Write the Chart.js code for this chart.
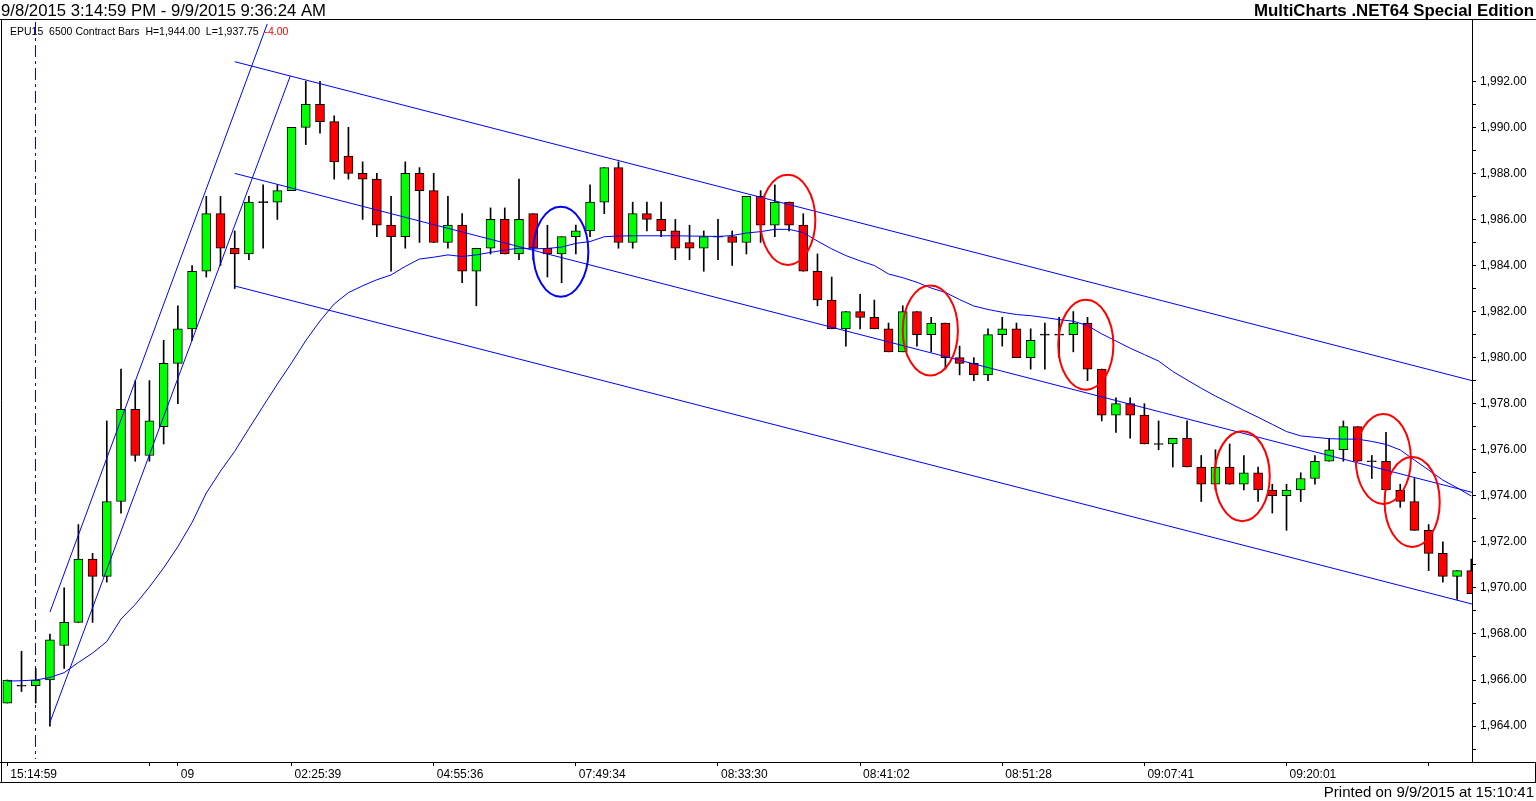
<!DOCTYPE html>
<html>
<head>
<meta charset="utf-8">
<title>EPU15 6500 Contract Bars</title>
<script src="https://cdn.jsdelivr.net/npm/chart.js@4.4.0/dist/chart.umd.min.js"></script>
<style>
html,body{margin:0;padding:0;background:#ffffff;overflow:hidden}
#wrap{position:relative;width:1536px;height:801px}
</style>
</head>
<body>
<div id="wrap"><canvas id="chart"></canvas></div>
<script>
// ---------------- DATA ----------------
const opens = [
 1965,1965.75,1965.75,1966,1967.5,1968.5,1971.25,1970.5,1973.75,1977.75,
 1975.75,1977,1979.75,1981.25,1983.75,1986.25,1984.75,1984.5,1986.75,1986.75,
 1987.25,1990,1991,1990.25,1988.75,1988,1987.75,1985.75,1985.25,1988,
 1987.25,1985,1985.75,1983.75,1984.75,1986,1984.5,1986.25,1984.75,1984.5,
 1985.25,1985.5,1986.75,1988.25,1985,1986.25,1986,1985.5,1985,1984.75,
 1985.25,1985.25,1985,1987,1985.75,1986.75,1985.75,1983.75,1982.5,1981.25,
 1982,1981.75,1981.25,1980.25,1982,1981,1981.5,1980,1979.75,1979.25,
 1981,1981.25,1980,1981,1981,1981,1981.5,1979.5,1977.5,1978,
 1977.5,1976.25,1976.25,1976.5,1975.25,1974.5,1975.25,1974.5,1975,1974.25,
 1974,1974.25,1974.75,1975.5,1976,1977,1975.5,1975.5,1974.25,1973.75,
 1972.5,1971.5,1970.5,1970.75
];
const highs = [
 1966,1967.25,1966.5,1968,1970,1972.75,1971.5,1977.25,1979.5,1979,
 1979,1980.75,1982.25,1984,1987,1987,1985.5,1987,1987.5,1987.5,
 1990,1992,1992,1990.5,1990,1988.5,1988,1987,1988.5,1988.25,
 1988,1987,1986.25,1984.75,1986.5,1986.5,1987.75,1986.25,1985.75,1985.25,
 1985.75,1987.5,1988.25,1988.5,1986.75,1986.75,1986.75,1986,1985.75,1985.5,
 1986,1985.5,1987,1987.25,1987.5,1986.75,1986.25,1984.5,1983.5,1982,
 1982.75,1982.5,1981.5,1982.25,1982,1981.75,1981.5,1980.5,1980,1981.25,
 1981.75,1981.5,1981.25,1981.5,1981.75,1982,1981.75,1979.5,1978.25,1978.25,
 1978,1977.25,1976.5,1977.25,1975.75,1976,1976.25,1975.75,1975.25,1974.5,
 1974.5,1975,1975.75,1976.5,1977.25,1977,1975.75,1976.75,1974.5,1974.75,
 1972.75,1972,1970.75,1971.25
];
const lows = [
 1965,1965.5,1965,1964,1966.5,1968.5,1968.5,1970.25,1973.25,1975.5,
 1975.5,1976.25,1978,1980.75,1983.5,1984,1983,1984.25,1984.75,1986,
 1987.25,1989.25,1989.75,1987.75,1987.75,1986,1985.25,1983.75,1984.75,1985,
 1985,1984.75,1983.25,1982.25,1984.5,1984.5,1984.25,1984.25,1983.5,1983.25,
 1984.5,1985.25,1986.25,1984.75,1984.75,1985.5,1985.25,1984.25,1984.25,1983.75,
 1984.25,1984,1984.5,1985,1985.25,1985.5,1983.75,1982.25,1981.25,1980.5,
 1981.25,1981.25,1980.25,1980.25,1980.5,1980.25,1979.5,1979.25,1979,1979,
 1980.5,1980,1979.5,1979.5,1980,1980.25,1979,1977.25,1976.75,1976.5,
 1976.25,1976,1975.25,1975.25,1973.75,1974.25,1974.5,1974.25,1973.75,1973.25,
 1972.5,1973.75,1974.5,1975.5,1975.5,1975.5,1974.75,1974.25,1973.5,1972.5,
 1970.75,1970.25,1969.5,1969.75
];
const closes = [
 1966,1965.75,1966,1967.75,1968.5,1971.25,1970.5,1973.75,1977.75,1975.75,
 1977.25,1979.75,1981.25,1983.75,1986.25,1984.75,1984.5,1986.75,1986.75,1987.25,
 1990,1991,1990.25,1988.5,1988,1987.75,1985.75,1985.25,1988,1987.25,
 1985,1985.75,1983.75,1984.75,1986,1984.5,1986,1984.75,1984.5,1985.25,
 1985.5,1986.75,1988.25,1985,1986.25,1986,1985.5,1984.75,1984.75,1985.25,
 1985.25,1985,1987,1985.75,1986.75,1985.75,1983.75,1982.5,1981.25,1982,
 1981.75,1981.25,1980.25,1982,1981,1981.5,1980,1979.75,1979.25,1981,
 1981.25,1980,1980.75,1981,1981,1981.5,1979.5,1977.5,1978,1977.5,
 1976.25,1976.25,1976.5,1975.25,1974.5,1975.25,1974.5,1975,1974.25,1974,
 1974.25,1974.75,1975.5,1976,1977,1975.5,1975.5,1974.25,1973.75,1972.5,
 1971.5,1970.5,1970.75,1969.75
];
// moving average, one value per bar
const movingAvg = [
 1965.95,1965.97,1966.00,1966.11,1966.32,1966.76,1967.17,1967.67,1968.65,1969.28,
 1970.04,1970.87,1971.79,1972.84,1974.12,1975.07,1975.93,1976.92,1977.89,1978.85,
 1979.77,1980.74,1981.59,1982.33,1982.82,1983.12,1983.38,1983.59,1983.96,1984.28,
 1984.36,1984.46,1984.39,1984.46,1984.57,1984.67,1984.75,1984.72,1984.74,1984.80,
 1984.96,1985.04,1985.25,1985.28,1985.29,1985.29,1985.29,1985.29,1985.28,1985.27,
 1985.26,1985.30,1985.41,1985.47,1985.57,1985.57,1985.43,1985.06,1984.72,1984.43,
 1984.20,1984.00,1983.63,1983.47,1983.27,1983.02,1982.83,1982.52,1982.24,1982.09,
 1981.97,1981.87,1981.82,1981.74,1981.65,1981.58,1981.39,1981.03,1980.72,1980.41,
 1980.13,1979.85,1979.40,1979.03,1978.67,1978.33,1978.02,1977.71,1977.41,1977.10,
 1976.79,1976.60,1976.54,1976.48,1976.46,1976.46,1976.36,1976.23,1975.99,1975.55,
 1975.12,1974.68,1974.35,1973.99
];
// trend lines, endpoints as [bar index, price]
const steepUpper   = [[3, 1968.95], [18.29, 1994.49]];
const steepLower   = [[3, 1964.16], [19.91, 1992.23]];
const channelUpper = [[16, 1992.85], [103.05, 1979.00]];
const channelMid   = [[16, 1988.00], [103.05, 1974.15]];
const channelLower = [[16, 1983.11], [103.05, 1969.30]];
// highlight circles: centre bar index and price
const blueCircleBars   = [38.94];
const blueCirclePrices = [1984.6];
const redCircleBars    = [54.91, 64.94, 75.88, 86.88, 96.81, 98.84];
const redCirclePrices  = [1985.98, 1981.18, 1980.56, 1974.85, 1975.60, 1973.73];
const sessionBreakBar = 2;
// axis ticks
const xTickBars   = [0, 10, 12, 20, 30, 40, 50, 60, 70, 80, 90, 100];
const xTickLabels = ['15:14:59', '', '09', '02:25:39', '04:55:36', '07:49:34', '08:33:30', '08:41:02', '08:51:28', '09:07:41', '09:20:01', ''];
const yTickValues = [1963,1964,1965,1966,1967,1968,1969,1970,1971,1972,1973,1974,1975,1976,1977,1978,
                     1979,1980,1981,1982,1983,1984,1985,1986,1987,1988,1989,1990,1991,1992];
// texts
const headerLeft  = '9/8/2015 3:14:59 PM - 9/9/2015 9:36:24 AM';
const headerRight = 'MultiCharts .NET64 Special Edition';
const legendText  = 'EPU15  6500 Contract Bars  H=1,944.00  L=1,937.75';
const legendChange = '-4.00';
const footerText  = 'Printed on 9/9/2015 at 15:10:41';

// ---------------- CHART ----------------
const FONT = '"Liberation Sans", Arial, sans-serif';
const GREEN = '#00ff00', RED = '#ff0000', LINE_BLUE = '#0000ff';

const wickData = highs.map((h, i) => ({ x: i, y: [lows[i], h] }));
const bodyData = opens.map((o, i) => {
  const c = closes[i];
  return o === c ? { x: i, y: [o - 0.022, c + 0.022] } : { x: i, y: [o, c] };
});
const toPts = arr => arr.map(p => ({ x: p[0], y: p[1] }));
const lineDs = (pts) => ({
  type: 'line', data: pts, borderColor: LINE_BLUE, borderWidth: 1,
  pointRadius: 0, tension: 0, fill: false, order: 0
});

const extras = {
  id: 'extras',
  beforeDraw(chart) {
    const ctx = chart.ctx;
    ctx.save();
    ctx.fillStyle = '#ffffff';
    ctx.fillRect(0, 0, chart.width, chart.height);
    ctx.restore();
  },
  beforeDatasetsDraw(chart) {
    const { ctx, chartArea, scales } = chart;
    const x = Math.round(scales.x.getPixelForValue(sessionBreakBar)) - 0.5;
    ctx.save();
    ctx.strokeStyle = '#0000ff';
    ctx.lineWidth = 1;
    ctx.setLineDash([12, 4, 3, 4]);
    ctx.beginPath();
    ctx.moveTo(x, chartArea.top + 2);
    ctx.lineTo(x, chartArea.bottom - 3);
    ctx.stroke();
    ctx.restore();
  },
  afterDatasetsDraw(chart) {
    const { ctx, chartArea, scales } = chart;
    const xs = scales.x, ys = scales.y;
    const rx = Math.abs(xs.getPixelForValue(1.94) - xs.getPixelForValue(0));
    const ry = Math.abs(ys.getPixelForValue(1.955 + 1980) - ys.getPixelForValue(1980));
    ctx.save();
    ctx.beginPath();
    ctx.rect(chartArea.left, chartArea.top, chartArea.right - chartArea.left, chartArea.bottom - chartArea.top);
    ctx.clip();
    ctx.lineWidth = 2;
    const ring = (b, p, col) => {
      ctx.strokeStyle = col;
      ctx.beginPath();
      ctx.ellipse(xs.getPixelForValue(b), ys.getPixelForValue(p), rx, ry, 0, 0, Math.PI * 2);
      ctx.stroke();
    };
    blueCircleBars.forEach((b, i) => ring(b, blueCirclePrices[i], '#0000ff'));
    redCircleBars.forEach((b, i) => ring(b, redCirclePrices[i], '#ff0000'));
    ctx.restore();
  },
  afterDraw(chart) {
    const { ctx, chartArea } = chart;
    const W = chart.width;
    ctx.save();
    // frame
    ctx.strokeStyle = '#000000';
    ctx.lineWidth = 1;
    ctx.beginPath();
    ctx.moveTo(0, chartArea.top - 0.5); ctx.lineTo(W, chartArea.top - 0.5);
    ctx.moveTo(1.5, chartArea.top - 0.5); ctx.lineTo(1.5, chartArea.bottom + 20);
    ctx.moveTo(chartArea.right + 0.5, chartArea.top - 0.5); ctx.lineTo(chartArea.right + 0.5, chartArea.bottom);
    ctx.moveTo(0, chartArea.bottom + 0.5); ctx.lineTo(W, chartArea.bottom + 0.5);
    ctx.moveTo(0, chartArea.bottom + 20.5); ctx.lineTo(W, chartArea.bottom + 20.5);
    ctx.moveTo(W - 0.5, chartArea.bottom); ctx.lineTo(W - 0.5, chartArea.bottom + 20.5);
    ctx.stroke();
    // header
    ctx.fillStyle = '#000000';
    ctx.textBaseline = 'alphabetic';
    ctx.font = '17px ' + FONT;
    ctx.textAlign = 'left';
    ctx.fillText(headerLeft, 1, 16, 325);
    ctx.font = 'bold 17px ' + FONT;
    ctx.textAlign = 'right';
    ctx.fillText(headerRight, W - 2, 16, 280);
    // legend
    ctx.font = '10.5px ' + FONT;
    ctx.textAlign = 'left';
    ctx.fillText(legendText, 10, 34.5);
    const lw = ctx.measureText(legendText + '  ').width;
    ctx.fillStyle = '#ff0000';
    ctx.fillText(legendChange, 10 + lw, 34.5);
    // footer
    ctx.fillStyle = '#000000';
    ctx.font = '15px ' + FONT;
    ctx.textAlign = 'right';
    ctx.fillText(footerText, W - 2, 797, 231);
    ctx.restore();
  }
};

Chart.defaults.font.family = FONT;
Chart.defaults.font.size = 12;
Chart.defaults.color = '#000000';

new Chart(document.getElementById('chart'), {
  type: 'bar',
  plugins: [extras],
  data: {
    datasets: [
      lineDs(movingAvg.map((v, i) => ({ x: i, y: v }))),
      lineDs(toPts(steepUpper)),
      lineDs(toPts(steepLower)),
      lineDs(toPts(channelUpper)),
      lineDs(toPts(channelMid)),
      lineDs(toPts(channelLower)),
      {
        type: 'bar', data: bodyData, grouped: false, barThickness: 9,
        backgroundColor: ctx => {
          const i = ctx.dataIndex;
          if (closes[i] > opens[i]) return GREEN;
          if (closes[i] < opens[i]) return RED;
          return '#000000';
        },
        borderColor: '#000000', borderWidth: 1, borderSkipped: false, order: 1
      },
      {
        type: 'bar', data: wickData, grouped: false, barThickness: 1,
        backgroundColor: '#000000', borderWidth: 0, order: 2
      }
    ]
  },
  options: {
    responsive: true,
    maintainAspectRatio: false,
    animation: false,
    events: [],
    layout: { padding: { top: 20, left: 2, right: 0, bottom: 19 } },
    plugins: { legend: { display: false }, tooltip: { enabled: false }, title: { display: false } },
    scales: {
      x: {
        type: 'linear', position: 'bottom', bounds: 'data',
        min: -0.373, max: 103.05, offset: false,
        grid: { display: true, drawOnChartArea: false, drawTicks: true, tickLength: 4, color: '#000000', offset: false },
        border: { display: false },
        afterBuildTicks: s => { s.ticks = xTickBars.map(v => ({ value: v })); },
        afterFit: s => { s.height = 20; },
        ticks: {
          autoSkip: false, maxRotation: 0, minRotation: 0, align: 'start', labelOffset: 3, padding: 1,
          font: { size: 12 }, color: '#000000',
          callback: (v, idx) => xTickLabels[idx]
        }
      },
      y: {
        type: 'linear', position: 'right', bounds: 'data', beginAtZero: false,
        min: 1962.44, max: 1994.66,
        grid: { display: true, drawOnChartArea: false, drawTicks: true, tickLength: 4, color: '#000000' },
        border: { display: false },
        afterBuildTicks: s => { s.ticks = yTickValues.map(v => ({ value: v })); },
        afterFit: s => { s.width = 64; },
        ticks: {
          autoSkip: false, padding: 4, font: { size: 12 }, color: '#000000',
          callback: v => (v % 2 === 0 ? v.toLocaleString('en-US', { minimumFractionDigits: 2, maximumFractionDigits: 2 }) : '')
        }
      }
    }
  }
});
</script>
</body>
</html>
